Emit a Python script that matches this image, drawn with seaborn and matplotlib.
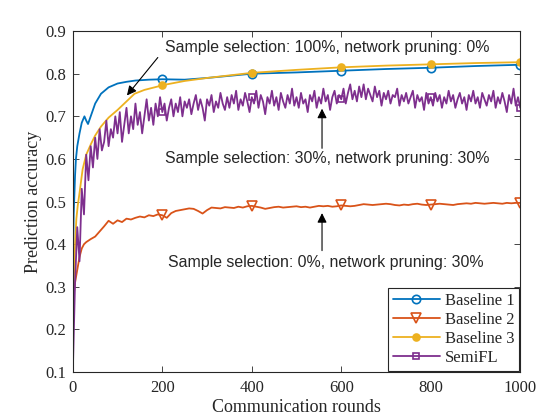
import numpy as np
import pandas as pd
import matplotlib
matplotlib.use('Agg')
import matplotlib.pyplot as plt
import seaborn as sns

# ---- data ----
b1_rounds = [0, 1, 2, 3, 5, 7, 10, 15, 20, 26, 30, 34, 40, 50, 63, 80, 100, 120, 140, 170,
             200, 250, 300, 350, 400, 500, 600, 700, 800, 900, 1000]
b1_acc = [0.28, 0.40, 0.47, 0.50, 0.56, 0.60, 0.63, 0.66, 0.685, 0.70, 0.69, 0.682, 0.70, 0.73,
          0.753, 0.768, 0.777, 0.781, 0.784, 0.786, 0.787, 0.786, 0.79, 0.795, 0.80, 0.803,
          0.807, 0.811, 0.814, 0.818, 0.821]

b3_rounds = [0, 2, 5, 8, 11, 15, 22, 30, 41, 50, 63, 80, 100, 120, 138, 160, 190, 200, 250,
             300, 400, 500, 600, 700, 800, 900, 1000]
b3_acc = [0.18, 0.30, 0.40, 0.46, 0.49, 0.52, 0.576, 0.61, 0.636, 0.655, 0.676, 0.697, 0.715,
          0.735, 0.753, 0.762, 0.77, 0.773, 0.783, 0.79, 0.802, 0.809, 0.815, 0.819, 0.822,
          0.825, 0.827]

b2_rounds = [0, 2, 5, 10, 15, 20, 25, 30] + list(range(40, 1001, 10))
b2_acc = [0.25, 0.28, 0.31, 0.34, 0.37, 0.39, 0.40, 0.405,
          0.412, 0.418, 0.43, 0.442, 0.455, 0.448,
          0.456, 0.452, 0.46, 0.458, 0.462, 0.465, 0.463, 0.468, 0.466, 0.47,
          0.468, 0.462, 0.473, 0.478, 0.48, 0.482, 0.484, 0.483, 0.478, 0.472,
          0.48, 0.486, 0.485, 0.484, 0.487, 0.486, 0.485, 0.488, 0.486, 0.489,
          0.49, 0.488, 0.486, 0.483, 0.485, 0.487, 0.488, 0.486, 0.487, 0.488,
          0.489, 0.487, 0.488, 0.486, 0.488, 0.49, 0.489, 0.49, 0.488, 0.489,
          0.491, 0.49, 0.489, 0.49, 0.492, 0.494, 0.493, 0.492, 0.493, 0.494,
          0.495, 0.494, 0.492, 0.491, 0.493, 0.492, 0.494, 0.495, 0.493, 0.492,
          0.493, 0.494, 0.495, 0.494, 0.493, 0.492, 0.494, 0.495, 0.496, 0.495,
          0.497, 0.496, 0.495, 0.496, 0.497, 0.496, 0.495, 0.497, 0.496, 0.497,
          0.497]

semi_rounds = list(range(0, 1001, 5))
semi_acc = [0.10, 0.31, 0.44, 0.36, 0.53, 0.47, 0.61, 0.55, 0.63, 0.58,
            0.65, 0.60, 0.67, 0.62, 0.64, 0.69, 0.63, 0.67, 0.65, 0.70,
            0.66, 0.71, 0.64, 0.68, 0.72, 0.66, 0.70, 0.67, 0.73, 0.68,
            0.71, 0.66, 0.70, 0.74, 0.69, 0.72, 0.68, 0.73, 0.70, 0.745,
            0.71, 0.73, 0.69, 0.72, 0.74, 0.70, 0.73, 0.71, 0.745, 0.70,
            0.735, 0.72, 0.74, 0.705, 0.73, 0.75, 0.715, 0.74, 0.72, 0.69,
            0.74, 0.725, 0.75, 0.71, 0.735, 0.72, 0.755, 0.73, 0.715, 0.745,
            0.72, 0.75, 0.73, 0.76, 0.715, 0.74, 0.725, 0.755, 0.735, 0.71,
            0.745, 0.73, 0.76, 0.72, 0.75, 0.735, 0.705, 0.745, 0.73, 0.76,
            0.725, 0.745, 0.715, 0.755, 0.735, 0.72, 0.75, 0.73, 0.765, 0.725,
            0.745, 0.72, 0.755, 0.73, 0.74, 0.71, 0.75, 0.735, 0.76, 0.72,
            0.745, 0.73, 0.765, 0.735, 0.75, 0.715, 0.745, 0.76, 0.73, 0.75,
            0.74, 0.765, 0.73, 0.755, 0.775, 0.74, 0.76, 0.735, 0.77, 0.745,
            0.775, 0.74, 0.765, 0.75, 0.735, 0.77, 0.745, 0.76, 0.725, 0.755,
            0.74, 0.76, 0.73, 0.75, 0.745, 0.765, 0.725, 0.75, 0.735, 0.755,
            0.73, 0.745, 0.76, 0.72, 0.75, 0.735, 0.745, 0.715, 0.755, 0.73,
            0.745, 0.725, 0.755, 0.735, 0.75, 0.72, 0.745, 0.73, 0.76, 0.735,
            0.75, 0.72, 0.74, 0.755, 0.73, 0.745, 0.715, 0.75, 0.735, 0.76,
            0.73, 0.745, 0.72, 0.755, 0.74, 0.725, 0.75, 0.735, 0.76, 0.72,
            0.745, 0.73, 0.755, 0.735, 0.71, 0.75, 0.73, 0.765, 0.725, 0.745,
            0.72]

marker_rounds = [200, 400, 600, 800, 1000]

# ---- style ----
sns.set_style('ticks')
plt.rcParams['font.family'] = ['Liberation Serif', 'DejaVu Serif']
plt.rcParams['axes.linewidth'] = 0.8
plt.rcParams['xtick.direction'] = 'in'
plt.rcParams['ytick.direction'] = 'in'

fig = plt.figure(figsize=(5.6, 4.2), dpi=100)
ax = fig.add_axes([0.13, 0.114, 0.799, 0.812])

series = [
    ('Baseline 1', b1_rounds, b1_acc, '#0072BD', 'o', 'none', 6),
    ('Baseline 2', b2_rounds, b2_acc, '#D95319', 'v', 'none', 7),
    ('Baseline 3', b3_rounds, b3_acc, '#EDB120', 'o', '#EDB120', 5),
    ('SemiFL', semi_rounds, semi_acc, '#7E2F8E', 's', 'none', 5),
]

for name, r, a, col, mk, mfc, ms in series:
    df = pd.DataFrame({'round': r, 'acc': a})
    idx = [r.index(m) for m in marker_rounds]
    sns.lineplot(data=df, x='round', y='acc', ax=ax, color=col, lw=1.3,
                 marker=mk, markevery=idx, markersize=ms, markerfacecolor=mfc,
                 markeredgecolor=col, markeredgewidth=1.2, label=name)

ax.set_xlim(0, 1000)
ax.set_ylim(0.1, 0.9)
ax.set_xticks([0, 200, 400, 600, 800, 1000])
ax.set_yticks([0.1, 0.2, 0.3, 0.4, 0.5, 0.6, 0.7, 0.8, 0.9])
ax.tick_params(labelsize=12, colors='#262626', top=True, right=True, length=4, width=0.6)
ax.tick_params(axis='x', pad=5.5)
ax.tick_params(axis='y', pad=4.5)
for s in ax.spines.values():
    s.set_color('#262626')
ax.set_xlabel('Communication rounds', fontsize=13, color='#262626', labelpad=2)
ax.set_ylabel('Prediction accuracy', fontsize=13, color='#262626', labelpad=3)

leg = ax.legend(loc='lower right', fontsize=12, fancybox=False, edgecolor='#262626',
                framealpha=1, handlelength=2.8, borderpad=0.3, labelspacing=0.18,
                handletextpad=0.3, borderaxespad=0.05)
leg.get_frame().set_linewidth(0.8)

arrow = dict(arrowstyle='-|>', color='k', lw=0.8, mutation_scale=14, shrinkA=0, shrinkB=0)
afont = dict(family=['Liberation Sans', 'DejaVu Sans'], fontsize=11.4, ha='center', va='center')
ax.annotate('', xy=(121, 0.749), xytext=(190, 0.838), arrowprops=arrow)
ax.text(568, 0.862, 'Sample selection: 100%, network pruning: 0%', **afont)
ax.annotate('', xy=(557, 0.718), xytext=(557, 0.625), arrowprops=arrow)
ax.text(568, 0.602, 'Sample selection: 30%, network pruning: 30%', **afont)
ax.annotate('', xy=(557, 0.473), xytext=(557, 0.385), arrowprops=arrow)
ax.text(565, 0.357, 'Sample selection: 0%, network pruning: 30%', **afont)

fig.savefig('out.png', dpi=100)
